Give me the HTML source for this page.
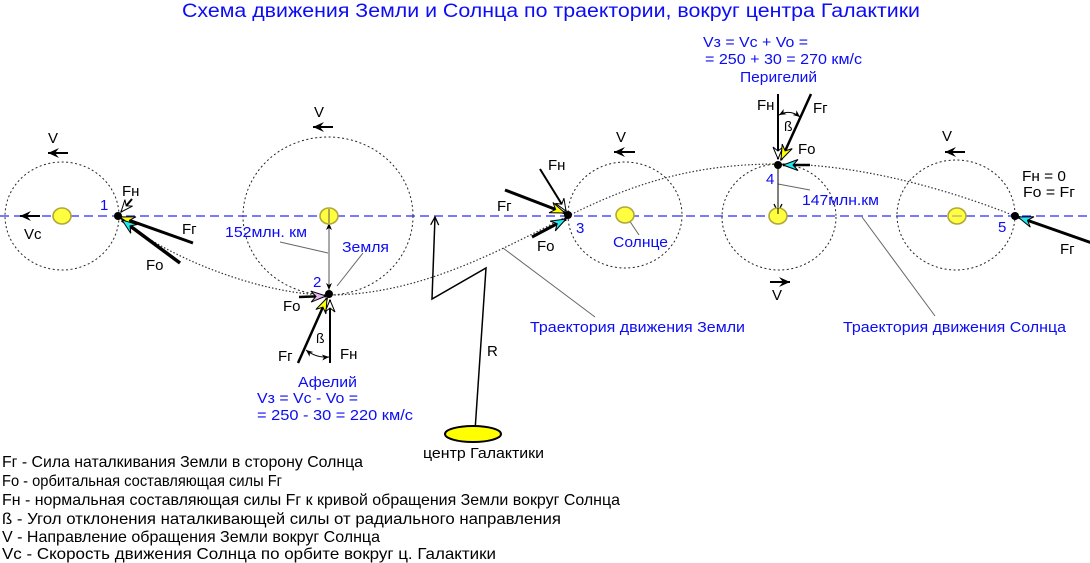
<!DOCTYPE html>
<html><head><meta charset="utf-8"><style>
html,body{margin:0;padding:0;background:#fff;}
svg{display:block;}
text{font-family:"Liberation Sans","DejaVu Sans",sans-serif;}
.b{fill:#0c0cf5;}
.k{fill:#000;}
</style></head><body>
<svg width="1090" height="563" viewBox="0 0 1090 563" xmlns="http://www.w3.org/2000/svg">
<defs>
<marker id="mY" viewBox="-17 -8 19 16" refX="0" refY="0" markerWidth="19" markerHeight="16" markerUnits="userSpaceOnUse" orient="auto"><path d="M0,0 L-15,-5.5 L-10,0 L-15,5.5 Z" fill="#ffff00" stroke="#000" stroke-width="1"/></marker>
<marker id="mC" viewBox="-17 -8 19 16" refX="0" refY="0" markerWidth="19" markerHeight="16" markerUnits="userSpaceOnUse" orient="auto"><path d="M0,0 L-15,-5.5 L-10,0 L-15,5.5 Z" fill="#22e8f0" stroke="#000" stroke-width="1"/></marker>
<marker id="mP" viewBox="-17 -8 19 16" refX="0" refY="0" markerWidth="19" markerHeight="16" markerUnits="userSpaceOnUse" orient="auto"><path d="M0,0 L-15,-5.5 L-10,0 L-15,5.5 Z" fill="#e6b8ee" stroke="#000" stroke-width="1"/></marker>
<marker id="mW" viewBox="-14 -7 16 14" refX="0" refY="0" markerWidth="16" markerHeight="14" markerUnits="userSpaceOnUse" orient="auto"><path d="M0,0 L-12,-5 L-8,0 L-12,5 Z" fill="#fff" stroke="#000" stroke-width="1"/></marker>
<marker id="mK" viewBox="-13 -6 15 12" refX="0" refY="0" markerWidth="15" markerHeight="12" markerUnits="userSpaceOnUse" orient="auto"><path d="M0,0 L-11,-5 L-7,0 L-11,5 Z" fill="#000"/></marker>
<marker id="mS" viewBox="-9 -4 10 8" refX="0" refY="0" markerWidth="10" markerHeight="8" markerUnits="userSpaceOnUse" orient="auto-start-reverse"><path d="M0,0 L-7,-3 L-5,0 L-7,3 Z" fill="#000"/></marker>
<marker id="mO" viewBox="-10 -6 11 12" refX="0" refY="0" markerWidth="11" markerHeight="12" markerUnits="userSpaceOnUse" orient="auto"><path d="M-8,-4 L0,0 L-8,4" fill="none" stroke="#000" stroke-width="1.3"/></marker>
</defs>

<!-- Title -->
<text x="182" y="17" font-size="19" class="b" textLength="738" lengthAdjust="spacingAndGlyphs">Схема движения Земли и Солнца по траектории, вокруг центра Галактики</text>

<!-- Orbits -->
<g fill="none" stroke="#222" stroke-width="1" stroke-dasharray="2,2.5">
<ellipse cx="62" cy="216" rx="57" ry="54"/>
<ellipse cx="328" cy="216" rx="85" ry="79"/>
<ellipse cx="625" cy="215" rx="57" ry="53"/>
<ellipse cx="779" cy="217" rx="57" ry="53"/>
<ellipse cx="956" cy="215" rx="59" ry="55"/>
</g>

<!-- Sun trajectory (blue dashed) -->
<line x1="0" y1="216" x2="1090" y2="216" stroke="#2a2aff" stroke-width="1.2" stroke-dasharray="9,5"/>

<!-- Earth trajectory -->
<path d="M118,216 C160,255 260,295 329,295 C420,295 500,250 568,216 C640,180 700,164 778,164 C860,164 950,190 1015,216" fill="none" stroke="#333" stroke-width="1.2" stroke-dasharray="1.5,2"/>

<!-- pointer lines -->
<g stroke="#666" stroke-width="1" fill="none">
<line x1="280" y1="242" x2="328" y2="253"/>
<line x1="337" y1="286" x2="363" y2="253"/>
<line x1="503" y1="248" x2="595" y2="317"/>
<line x1="627" y1="217" x2="639" y2="235"/>
<line x1="778" y1="184" x2="810" y2="190"/>
<line x1="862" y1="217" x2="935" y2="316"/>
</g>

<!-- distance arrows -->
<line x1="329" y1="223" x2="329" y2="290" stroke="#555" stroke-width="1" marker-start="url(#mS)" marker-end="url(#mS)"/>
<line x1="778" y1="168" x2="778" y2="212" stroke="#000" stroke-width="1" marker-end="url(#mO)"/>

<!-- Suns -->
<g fill="#ffff40" stroke="#b0a838" stroke-width="1.6">
<ellipse cx="62" cy="216" rx="9" ry="8"/>
<ellipse cx="329" cy="216" rx="9" ry="8"/>
<ellipse cx="625" cy="215" rx="9" ry="8"/>
<ellipse cx="778" cy="216" rx="9" ry="8"/>
<ellipse cx="957" cy="216" rx="9" ry="8"/>
</g>
<line x1="952" y1="216" x2="962" y2="216" stroke="#999" stroke-width="1"/>
<line x1="329" y1="209" x2="329" y2="223" stroke="#555" stroke-width="1"/>
<line x1="778" y1="208" x2="778" y2="214" stroke="#000" stroke-width="1"/>

<!-- V arrows -->
<g stroke="#000" stroke-width="2">
<line x1="68" y1="153" x2="48" y2="153" marker-end="url(#mK)"/>
<line x1="333" y1="127" x2="313" y2="127" marker-end="url(#mK)"/>
<line x1="635" y1="152" x2="614" y2="152" marker-end="url(#mK)"/>
<line x1="770" y1="282" x2="790" y2="282" marker-end="url(#mK)"/>
<line x1="965" y1="152" x2="945" y2="152" marker-end="url(#mK)"/>
<line x1="40" y1="216" x2="20" y2="216" marker-end="url(#mK)"/>
</g>

<!-- R construction -->
<polyline points="475,431 486,268 432,299 435,217" fill="none" stroke="#000" stroke-width="1.5" marker-end="url(#mO)"/>
<ellipse cx="473" cy="434" rx="28" ry="8" fill="#ffff00" stroke="#000" stroke-width="2"/>

<!-- Forces point 1 -->
<line x1="132" y1="199" x2="121" y2="212" stroke="#000" stroke-width="2" marker-end="url(#mW)"/>
<line x1="193" y1="243" x2="120" y2="217" stroke="#000" stroke-width="3" marker-end="url(#mY)"/>
<line x1="180" y1="263" x2="122" y2="220" stroke="#000" stroke-width="3.5" marker-end="url(#mC)"/>

<!-- Forces point 2 -->
<line x1="299" y1="297" x2="326" y2="296" stroke="#000" stroke-width="2.5" marker-end="url(#mP)"/>
<line x1="298" y1="363" x2="327" y2="298" stroke="#000" stroke-width="2.5" marker-end="url(#mY)"/>
<line x1="330" y1="363" x2="330" y2="300" stroke="#000" stroke-width="2" marker-end="url(#mW)"/>
<path d="M306,350 Q316,358 329,357" fill="none" stroke="#000" stroke-width="1" marker-start="url(#mS)" marker-end="url(#mS)"/>

<!-- Forces point 3 -->
<line x1="540" y1="169" x2="566" y2="211" stroke="#000" stroke-width="2" marker-end="url(#mW)"/>
<line x1="505" y1="190" x2="565" y2="213" stroke="#000" stroke-width="3" marker-end="url(#mY)"/>
<line x1="532" y1="237" x2="566" y2="219" stroke="#000" stroke-width="3" marker-end="url(#mC)"/>

<!-- Forces point 4 -->
<line x1="778" y1="94" x2="778" y2="159" stroke="#000" stroke-width="2" marker-end="url(#mW)"/>
<line x1="811" y1="94" x2="781" y2="160" stroke="#000" stroke-width="2.5" marker-end="url(#mY)"/>
<line x1="810" y1="165" x2="783" y2="165" stroke="#000" stroke-width="2.5" marker-end="url(#mC)"/>
<path d="M779,115 Q790,109 800,117" fill="none" stroke="#000" stroke-width="1" marker-start="url(#mS)" marker-end="url(#mS)"/>

<!-- Forces point 5 -->
<line x1="1092" y1="243" x2="1018" y2="217" stroke="#000" stroke-width="3" marker-end="url(#mC)"/>

<!-- Earth points -->
<g fill="#000">
<circle cx="118" cy="216" r="4"/>
<circle cx="329" cy="294" r="4"/>
<circle cx="568" cy="215" r="4"/>
<circle cx="778" cy="165" r="4"/>
<circle cx="1015" cy="216" r="4"/>
</g>

<!-- Black labels -->
<g font-size="15" class="k">
<text x="48" y="143">V</text>
<text x="24" y="239">Vc</text>
<text x="122" y="196">Fн</text>
<text x="182" y="234">Fг</text>
<text x="146" y="270">Fо</text>
<text x="314" y="117">V</text>
<text x="283" y="311">Fо</text>
<text x="278" y="361">Fг</text>
<text x="316" y="343" font-size="14">ß</text>
<text x="340" y="359">Fн</text>
<text x="487" y="356">R</text>
<text x="423" y="458" textLength="121" lengthAdjust="spacingAndGlyphs">центр Галактики</text>
<text x="548" y="170">Fн</text>
<text x="497" y="211">Fг</text>
<text x="537" y="251">Fо</text>
<text x="616" y="142">V</text>
<text x="757" y="110">Fн</text>
<text x="813" y="113">Fг</text>
<text x="784" y="131" font-size="14">ß</text>
<text x="798" y="154">Fо</text>
<text x="772" y="300">V</text>
<text x="942" y="141">V</text>
<text x="1022" y="181" textLength="44" lengthAdjust="spacingAndGlyphs">Fн = 0</text>
<text x="1023" y="197" textLength="52" lengthAdjust="spacingAndGlyphs">Fо = Fг</text>
<text x="1060" y="254">Fг</text>
</g>

<!-- Blue labels -->
<g font-size="15" class="b">
<text x="100" y="210">1</text>
<text x="313" y="287">2</text>
<text x="576" y="233">3</text>
<text x="766" y="184">4</text>
<text x="998" y="232">5</text>
<text x="225" y="237" textLength="82" lengthAdjust="spacingAndGlyphs">152млн. км</text>
<text x="342" y="252" textLength="47" lengthAdjust="spacingAndGlyphs">Земля</text>
<text x="298" y="387" textLength="59" lengthAdjust="spacingAndGlyphs">Афелий</text>
<text x="257" y="403" textLength="101" lengthAdjust="spacingAndGlyphs">Vз = Vc - Vo =</text>
<text x="257" y="420" textLength="156" lengthAdjust="spacingAndGlyphs">= 250 - 30 = 220 км/с</text>
<text x="613" y="247" textLength="55" lengthAdjust="spacingAndGlyphs">Солнце</text>
<text x="530" y="332" textLength="215" lengthAdjust="spacingAndGlyphs">Траектория движения Земли</text>
<text x="843" y="332" textLength="223" lengthAdjust="spacingAndGlyphs">Траектория движения Солнца</text>
<text x="703" y="47" textLength="105" lengthAdjust="spacingAndGlyphs">Vз = Vc + Vo =</text>
<text x="705" y="64" textLength="157" lengthAdjust="spacingAndGlyphs">= 250 + 30 = 270 км/с</text>
<text x="740" y="82" textLength="77" lengthAdjust="spacingAndGlyphs">Перигелий</text>
<text x="802" y="205" textLength="77" lengthAdjust="spacingAndGlyphs">147млн.км</text>
</g>

<!-- Legend -->
<g font-size="16" class="k">
<text x="2" y="467" textLength="361" lengthAdjust="spacingAndGlyphs">Fг - Сила наталкивания Земли в сторону Солнца</text>
<text x="2" y="486" textLength="280" lengthAdjust="spacingAndGlyphs">Fо - орбитальная составляющая силы Fг</text>
<text x="2" y="505" textLength="618" lengthAdjust="spacingAndGlyphs">Fн - нормальная составляющая силы Fг к кривой обращения Земли вокруг Солнца</text>
<text x="2" y="524" textLength="559" lengthAdjust="spacingAndGlyphs">ß - Угол отклонения наталкивающей силы от радиального направления</text>
<text x="2" y="542" textLength="378" lengthAdjust="spacingAndGlyphs">V - Направление обращения Земли вокруг Солнца</text>
<text x="2" y="559" textLength="494" lengthAdjust="spacingAndGlyphs">Vc - Скорость движения Солнца по орбите вокруг ц. Галактики</text>
</g>
</svg>
</body></html>
